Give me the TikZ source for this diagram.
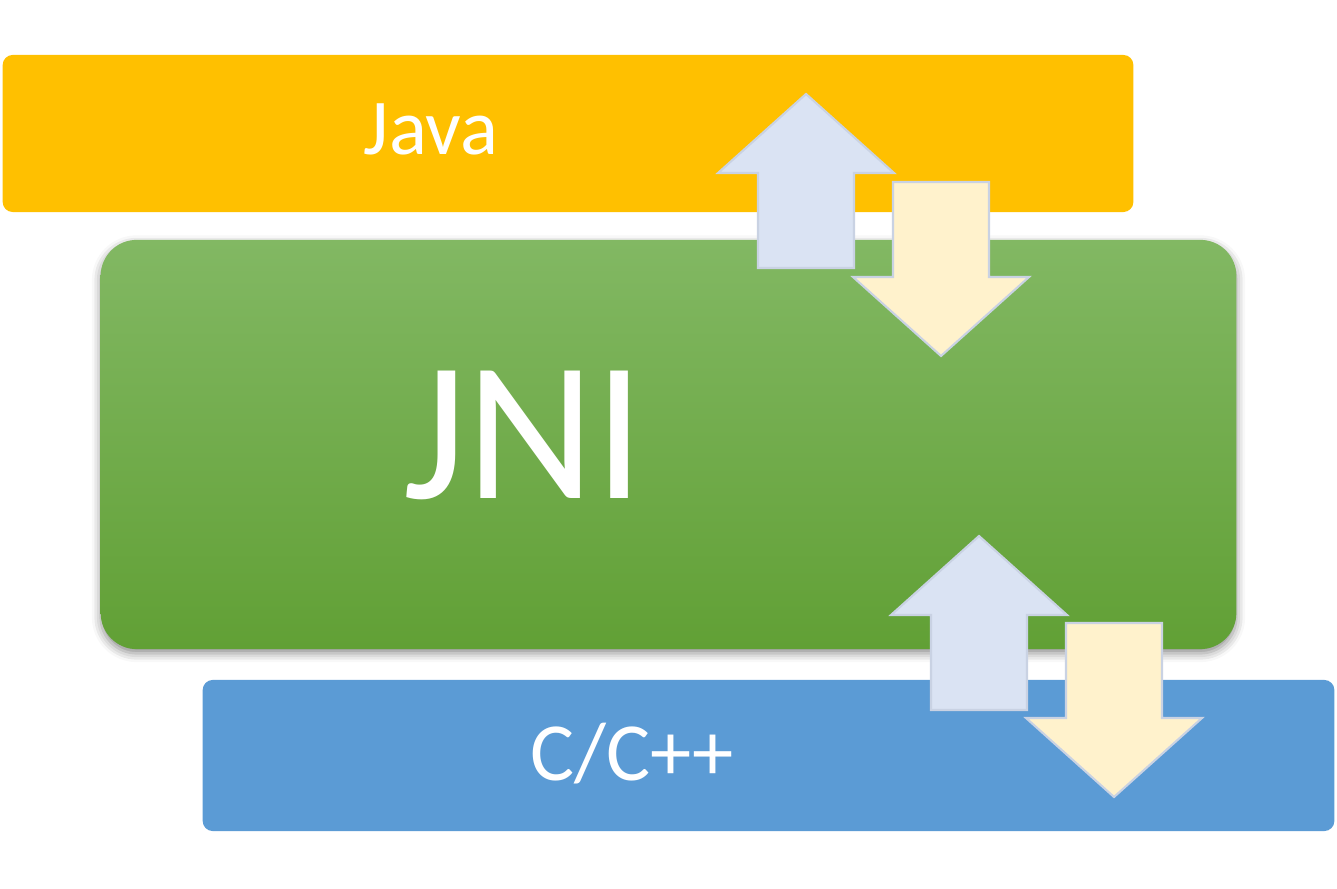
\documentclass[tikz,border=0pt]{standalone}
\usepackage{fontspec}
\setmainfont{Carlito}
\usetikzlibrary{shadows.blur}

\definecolor{javaorange}{HTML}{FFC000}
\definecolor{jnitop}{HTML}{82B863}
\definecolor{jnibottom}{HTML}{61A035}
\definecolor{cblue}{HTML}{5B9BD5}
\definecolor{upfill}{HTML}{DAE3F3}
\definecolor{downfill}{HTML}{FFF2CC}
\definecolor{arrowedge}{HTML}{C9D2E3}

\begin{document}
\begin{tikzpicture}[x=0.01cm, y=-0.01cm,
    layer/.style={rectangle, rounded corners=0.1cm, inner sep=0pt},
    label/.style={text=white, anchor=base, inner sep=0pt},
    arrline/.style={draw=arrowedge, line width=0.6pt, line join=miter},
    uparr/.pic={\path[arrline, fill=upfill] (0,0) -- (88,79) -- (48,79) -- (48,174)
        -- (-48,174) -- (-48,79) -- (-88,79) -- cycle;},
    downarr/.pic={\path[arrline, fill=downfill] (0,0) -- (88,-79) -- (48,-79) -- (48,-174)
        -- (-48,-174) -- (-48,-79) -- (-88,-79) -- cycle;}]

\useasboundingbox (0,0) rectangle (1337,889);

% Java
\node[layer, fill=javaorange, minimum width=11.30cm, minimum height=1.57cm] (java) at (568,133.5) {};
\node[label, font=\fontsize{22.5}{27}\selectfont] (javatext) at (431,155) {Java};

% JNI
\node[layer, rounded corners=0.36cm, top color=jnitop, bottom color=jnibottom,
    minimum width=11.35cm, minimum height=4.09cm,
    blur shadow={shadow xshift=0pt, shadow yshift=-1.2pt, shadow blur radius=2.5pt, shadow opacity=45}]
    (jni) at (668.5,444.5) {};
\node[label, font=\fontsize{56.5}{62}\selectfont] (jnitext) at (524,499) {JNI};

% Java <-> JNI
\pic at (806,94) {uparr};
\pic at (941,356) {downarr};

% C/C++
\node[layer, fill=cblue, minimum width=11.31cm, minimum height=1.51cm] (native) at (768.5,755.5) {};
\node[label, font=\fontsize{23.5}{28}\selectfont] (nativetext) at (632,780) {C/C++};

% JNI <-> C/C++
\pic at (979,536) {uparr};
\pic at (1114,797) {downarr};
\end{tikzpicture}
\end{document}
